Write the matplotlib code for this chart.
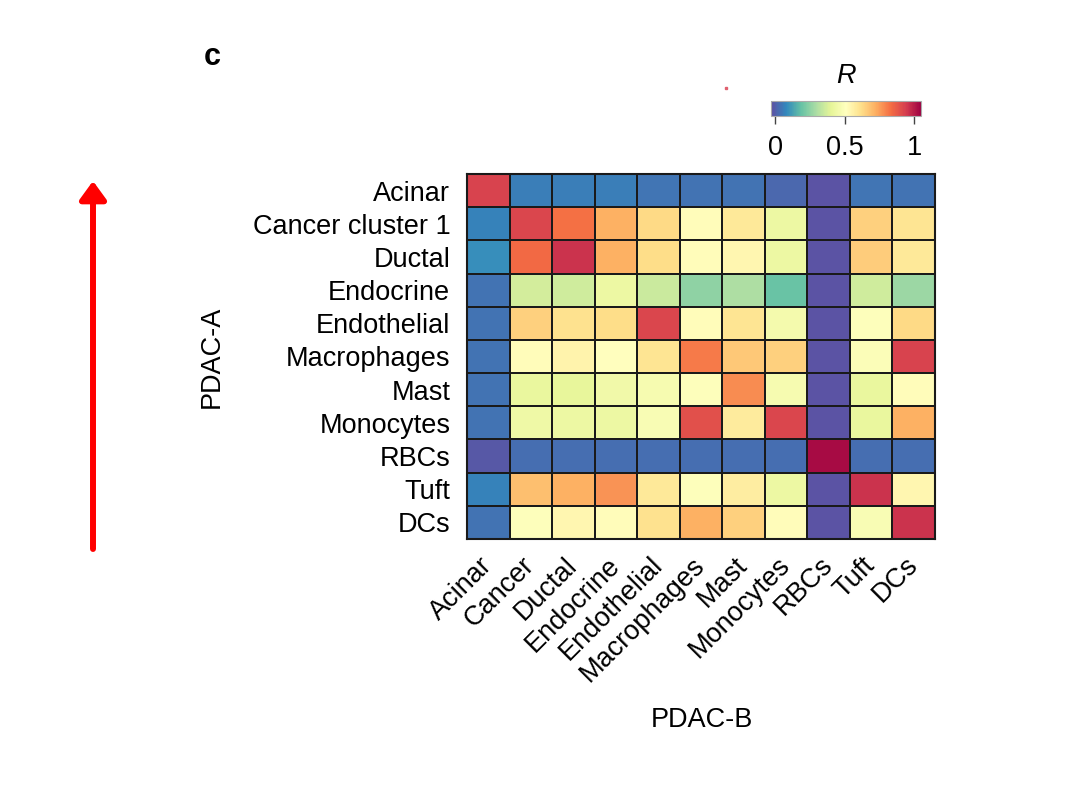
import matplotlib
matplotlib.use("Agg")
import matplotlib.pyplot as plt
import numpy as np

# data: correlation R between PDAC-A (rows) and PDAC-B (columns) clusters
rowLabels = ["Acinar", "Cancer cluster 1", "Ductal", "Endocrine", "Endothelial",
             "Macrophages", "Mast", "Monocytes", "RBCs", "Tuft", "DCs"]
colLabels = ["Acinar", "Cancer", "Ductal", "Endocrine", "Endothelial",
             "Macrophages", "Mast", "Monocytes", "RBCs", "Tuft", "DCs"]
rAcinar      = [0.93, 0.06, 0.06, 0.06, 0.045, 0.04, 0.04, 0.02, -0.02, 0.045, 0.04]
rCancer1     = [0.07, 0.92, 0.83, 0.72, 0.63, 0.52, 0.59, 0.43, -0.02, 0.65, 0.60]
rDuctal      = [0.09, 0.84, 0.96, 0.72, 0.62, 0.52, 0.54, 0.43, -0.02, 0.66, 0.59]
rEndocrine   = [0.04, 0.37, 0.36, 0.43, 0.35, 0.25, 0.30, 0.19, -0.02, 0.36, 0.27]
rEndothelial = [0.04, 0.65, 0.61, 0.62, 0.92, 0.52, 0.60, 0.46, -0.02, 0.50, 0.63]
rMacrophages = [0.04, 0.52, 0.55, 0.51, 0.60, 0.81, 0.67, 0.65, -0.02, 0.49, 0.93]
rMast        = [0.04, 0.42, 0.41, 0.45, 0.47, 0.50, 0.78, 0.47, -0.02, 0.42, 0.52]
rMonocytes   = [0.04, 0.44, 0.43, 0.43, 0.48, 0.90, 0.58, 0.92, -0.02, 0.42, 0.72]
rRBCs        = [-0.01, 0.03, 0.03, 0.03, 0.03, 0.03, 0.03, 0.03, 1.03, 0.03, 0.03]
rTuft        = [0.07, 0.69, 0.72, 0.77, 0.59, 0.50, 0.57, 0.43, -0.02, 0.96, 0.54]
rDCs         = [0.04, 0.50, 0.54, 0.52, 0.61, 0.72, 0.65, 0.52, -0.02, 0.48, 0.96]
values = np.array([rAcinar, rCancer1, rDuctal, rEndocrine, rEndothelial, rMacrophages,
                   rMast, rMonocytes, rRBCs, rTuft, rDCs])

plt.rcParams['font.family'] = ['Liberation Sans', 'DejaVu Sans']

W, H = 1080, 791
fig = plt.figure(figsize=(W / 100, H / 100), dpi=100)

# heatmap axes
axMain = fig.add_axes([467 / W, 1 - 539 / H, 468 / W, 365 / H])
mesh = axMain.pcolormesh(values, cmap="Spectral_r", vmin=-0.03, vmax=1.05,
                         edgecolors="#1a1a1a", linewidth=1.3)
axMain.set_xlim(0, len(colLabels))
axMain.set_ylim(len(rowLabels), 0)
axMain.set_xticks(np.arange(len(colLabels)) + 0.5)
axMain.set_yticks(np.arange(len(rowLabels)) + 0.5)
axMain.set_yticklabels(rowLabels, fontsize=19.5)
axMain.set_xticklabels(colLabels, fontsize=19.5, rotation=45, ha="right",
                       va="center", rotation_mode="anchor")
axMain.tick_params(axis="both", length=0)
axMain.tick_params(axis="y", pad=12)
axMain.tick_params(axis="x", pad=16)
for s in axMain.spines.values():
    s.set_linewidth(1.5)
    s.set_color("#1a1a1a")
axMain.set_ylabel("PDAC-A", fontsize=19.5, labelpad=20)
fig.text(702 / W, 1 - 720 / H, "PDAC-B", fontsize=19.5, ha="center", va="center")

# colorbar
cax = fig.add_axes([771 / W, 1 - 116 / H, 150 / W, 15 / H])
cbar = fig.colorbar(mesh, cax=cax, orientation="horizontal", ticks=[0, 0.5, 1])
cbar.ax.set_xticklabels(["0", "0.5", "1"], fontsize=19.5)
cbar.ax.tick_params(length=6, width=1, color="#444444", pad=8)
cbar.outline.set_edgecolor("#aaaaaa")
cbar.outline.set_linewidth(0.8)
fig.text(846 / W, 1 - 76 / H, "R", fontsize=19.5, style="italic", ha="center", va="center")

# panel letter
fig.text(212 / W, 1 - 57 / H, "c", fontsize=22, fontweight="heavy", ha="center", va="center")

# stray mark and red arrow on the left
fig.add_artist(plt.Line2D([726 / W], [1 - 88 / H], marker="s", markersize=1.5,
                          color="#e0606f", linestyle="none"))
axMain.annotate("", xy=(93, H - 181), xytext=(93, H - 549),
                xycoords="figure pixels", textcoords="figure pixels",
                arrowprops=dict(arrowstyle="-|>,head_length=0.55,head_width=0.4",
                                color="red", lw=4.3, mutation_scale=20,
                                shrinkA=0, shrinkB=0))

plt.savefig("out.png", dpi=100)
